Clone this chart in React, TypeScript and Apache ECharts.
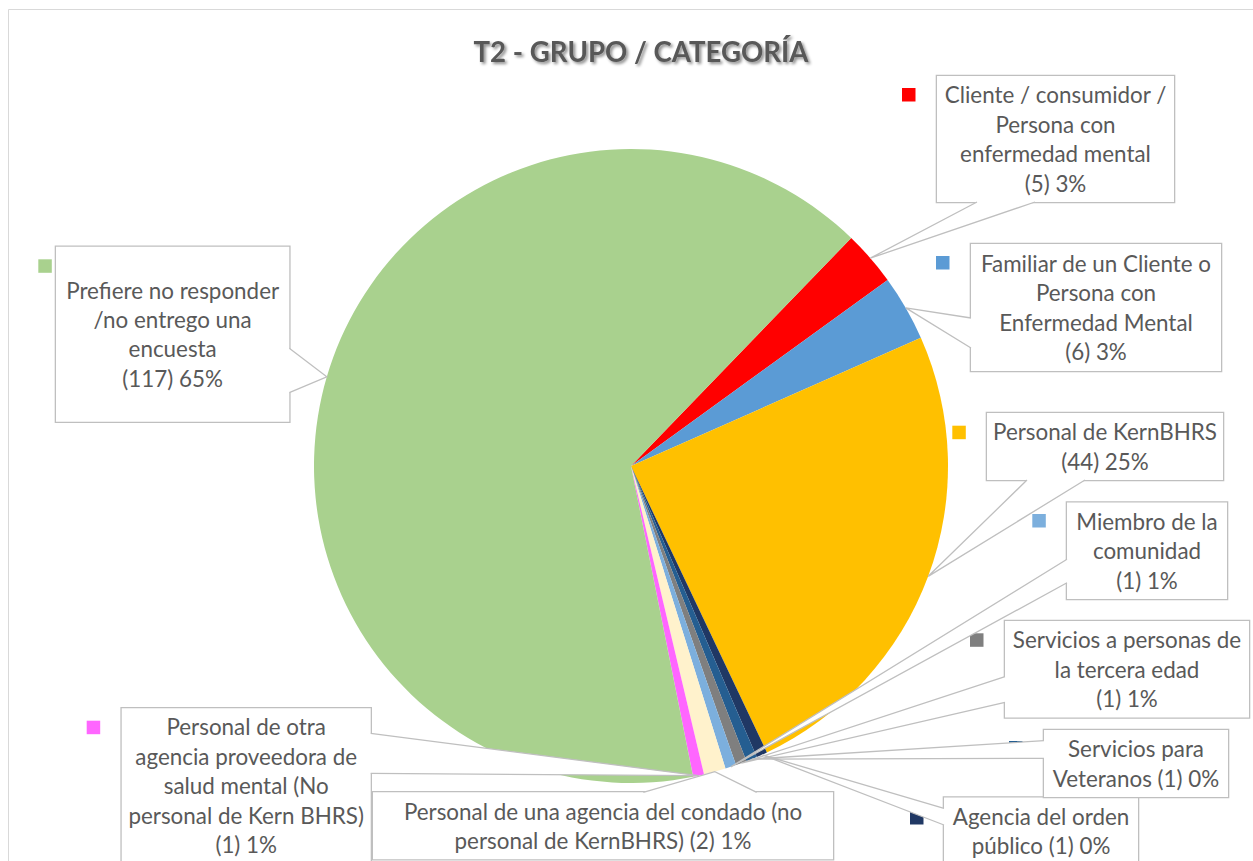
import React, { useEffect, useRef } from "react";
import * as echarts from "echarts";

// ---------- data ----------
const categories = [
  "Cliente / consumidor / Persona con enfermedad mental",
  "Familiar de un Cliente o Persona con Enfermedad Mental",
  "Personal de KernBHRS",
  "Agencia del orden público",
  "Servicios para Veteranos",
  "Servicios a personas de la tercera edad",
  "Miembro de la comunidad",
  "Personal de una agencia del condado (no personal de KernBHRS)",
  "Personal de otra agencia proveedora de salud mental (No personal de Kern BHRS)",
  "Prefiere no responder /no entrego una encuesta",
];
const counts = [5, 6, 44, 1, 1, 1, 1, 2, 1, 117];
const pctLabels = ["3%", "3%", "25%", "0%", "0%", "1%", "1%", "1%", "1%", "65%"];
const labelTemplates = [
  "Cliente / consumidor /\nPersona con\nenfermedad mental\n{v}",
  "Familiar de un Cliente o\nPersona con\nEnfermedad Mental\n{v}",
  "Personal de KernBHRS\n{v}",
  "Agencia del orden\npúblico {v}",
  "Servicios para\nVeteranos {v}",
  "Servicios a personas de\nla tercera edad\n{v}",
  "Miembro de la\ncomunidad\n{v}",
  "Personal de una agencia del condado (no\npersonal de KernBHRS) {v}",
  "Personal de otra\nagencia proveedora de\nsalud mental (No\npersonal de Kern BHRS)\n{v}",
  "Prefiere no responder\n/no entrego una\nencuesta\n{v}",
];
const colors = [
  "#FF0000", "#5B9BD5", "#FFC000", "#203864", "#255E91",
  "#7F7F7F", "#7CAFDD", "#FFF2CC", "#FF66FF", "#A9D18E",
];
const titleText = "T2 - GRUPO / CATEGORÍA";

// ---------- layout (positions / sizes) ----------
const CENTER = [631, 466];
const RADIUS = 317;
const START_ANGLE = 46;
const LH = 29.4;
const FONT = 'Lato, "Open Sans", sans-serif';
const TEXT_COLOR = "#595959";
const BOX_BORDER = "#BFBFBF";

// label boxes: [left, top, width, height]
const BOXES = [
  [937, 76, 237, 126],
  [971, 244, 250, 127],
  [987, 413, 236, 67],
  [944, 797.5, 194, 67],
  [1044, 730, 184, 67],
  [1005, 621, 244, 96.5],
  [1067, 502.5, 160, 96.5],
  [373, 792.3, 460, 67],
  [121.7, 708.3, 249, 155],
  [56, 246.7, 233.3, 175],
];
// callout pointer bases: [edge, offset1, offset2]
const POINTERS: [string, number, number][] = [
  ["b", 40, 98],
  ["l", 74, 104],
  ["b", 40, 98],
  ["l", 10.8, 27.5],
  ["l", 10.7, 28.3],
  ["l", 55.7, 81.3],
  ["l", 56.8, 80.2],
  ["t", 270.3, 383.7],
  ["r", 25, 65],
  ["r", 101.6, 146],
];
// legend key squares (top-left), null = hidden
const KEYS: (number[] | null)[] = [
  [902, 88], [936, 256], [952.3, 425.7], [910, 811], [1009, 741],
  [970, 633.3], [1032.3, 514], null, [86.7, 720.7], [38.3, 259.3],
];

function basePoints(i: number) {
  const [l, t, w, h] = BOXES[i];
  const [edge, a, b] = POINTERS[i];
  const ins = 1.5;
  if (edge === "b") return { outer: [[l + a, t + h], [l + b, t + h]], inner: [[l + a, t + h - ins], [l + b, t + h - ins]] };
  if (edge === "t") return { outer: [[l + a, t], [l + b, t]], inner: [[l + a, t + ins], [l + b, t + ins]] };
  if (edge === "l") return { outer: [[l, t + a], [l, t + b]], inner: [[l + ins, t + a], [l + ins, t + b]] };
  return { outer: [[l + w, t + a], [l + w, t + b]], inner: [[l + w - ins, t + a], [l + w - ins, t + b]] };
}

export default function App() {
  const ref = useRef<HTMLDivElement>(null);
  useEffect(() => {
    if (!ref.current) return;
    const chart = echarts.init(ref.current, undefined, { renderer: "svg" });
    const tips: (number[] | null)[] = categories.map(() => null);

    const data = categories.map((name, i) => {
      const n = labelTemplates[i].split("\n").length;
      const pv = (BOXES[i][3] - n * LH) / 2;
      return {
        name,
        value: counts[i],
        itemStyle: { color: colors[i] },
        label: { width: BOXES[i][2] - 8, padding: [pv, 4, pv, 4] },
      };
    });

    chart.setOption({
      animation: false,
      backgroundColor: "#ffffff",
      title: {
        text: titleText,
        left: 636,
        top: 32,
        textAlign: "center",
        textStyle: {
          fontFamily: FONT,
          fontWeight: "bold",
          fontSize: 27.6,
          color: TEXT_COLOR,
          textShadowColor: "rgba(0,0,0,0.45)",
          textShadowBlur: 3,
          textShadowOffsetX: 2,
          textShadowOffsetY: 2,
        },
      },
      series: [
        {
          type: "pie",
          z: 2,
          center: CENTER,
          radius: RADIUS,
          startAngle: START_ANGLE,
          clockwise: true,
          avoidLabelOverlap: false,
          emphasis: { disabled: true },
          itemStyle: { borderWidth: 0 },
          data,
          label: {
            show: true,
            position: "outside",
            formatter: (p: any) =>
              labelTemplates[p.dataIndex].replace(
                "{v}",
                `(${counts[p.dataIndex]}) ${pctLabels[p.dataIndex]}`
              ),
            color: TEXT_COLOR,
            fontFamily: FONT,
            fontSize: 22.4,
            lineHeight: LH,
            backgroundColor: "#ffffff",
            borderColor: BOX_BORDER,
            borderWidth: 1.3,
            align: "center",
            overflow: "none",
          },
          labelLine: { show: true, length: 5, length2: 5, lineStyle: { opacity: 0 } },
          labelLayout: (params: any) => {
            const i = params.dataIndex;
            const pts = params.labelLinePoints;
            if (pts && pts[0]) tips[i] = [pts[0][0], pts[0][1]];
            const b = BOXES[i];
            return { x: b[0] + b[2] / 2, y: b[1], align: "center", verticalAlign: "top" };
          },
        },
      ],
    });

    // fallback tip: slice mid-angle on the rim
    const total = counts.reduce((a, b) => a + b, 0);
    let cum = 0;
    counts.forEach((v, i) => {
      const mid = ((START_ANGLE - ((cum + v / 2) / total) * 360) * Math.PI) / 180;
      cum += v;
      if (!tips[i]) tips[i] = [CENTER[0] + RADIUS * Math.cos(mid), CENTER[1] - RADIUS * Math.sin(mid)];
    });

    const graphics: any[] = [
      {
        type: "rect",
        z: 0,
        silent: true,
        shape: { x: 8.5, y: 9.5, width: 1260, height: 900 },
        style: { fill: "none", stroke: "#D9D9D9", lineWidth: 1 },
      },
    ];
    KEYS.forEach((k, i) => {
      if (!k) return;
      graphics.push({
        type: "rect",
        z: 10,
        silent: true,
        shape: { x: k[0], y: k[1], width: 13.5, height: 13.5 },
        style: { fill: colors[i] },
      });
    });
    categories.forEach((_, i) => {
      const tip = tips[i] as number[];
      const { outer, inner } = basePoints(i);
      graphics.push({
        type: "polygon",
        z: 11,
        silent: true,
        shape: { points: [inner[0], outer[0], tip, outer[1], inner[1]] },
        style: { fill: "#ffffff", stroke: "none" },
      });
      graphics.push({
        type: "polyline",
        z: 12,
        silent: true,
        shape: { points: [outer[0], tip, outer[1]] },
        style: { fill: "none", stroke: BOX_BORDER, lineWidth: 1.3 },
      });
    });
    chart.setOption({ graphic: { elements: graphics } });

    return () => chart.dispose();
  }, []);
  return (
    <div
      ref={ref}
      style={{ position: "fixed", left: 0, top: 0, width: 1253, height: 861, background: "#fff" }}
    />
  );
}
